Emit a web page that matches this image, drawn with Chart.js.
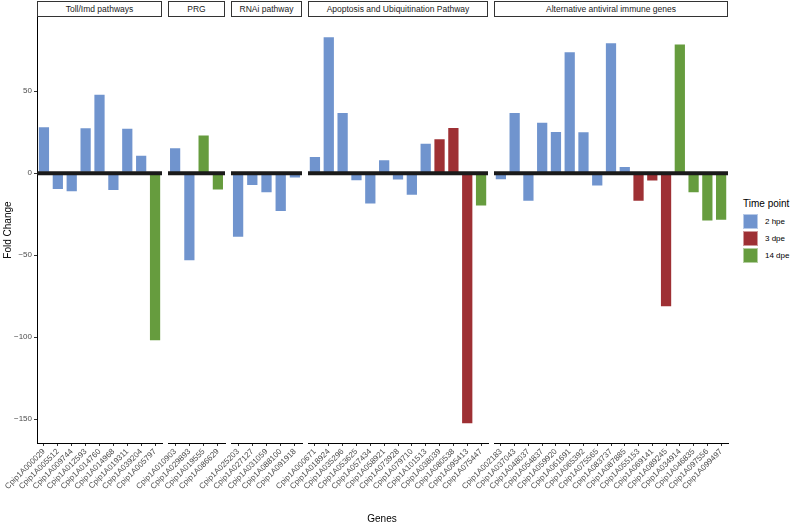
<!DOCTYPE html>
<html>
<head>
<meta charset="utf-8">
<script src="https://cdn.jsdelivr.net/npm/chart.js@4.4.1/dist/chart.umd.min.js"></script>
<style>
  body { margin: 0; background: #fff; }
  #wrap { position: relative; width: 792px; height: 526px; overflow: hidden; font-family: "Liberation Sans", Arial, sans-serif; }
  .panel { position: absolute; }
  .strip { position: absolute; top: 1px; height: 16px; box-sizing: border-box; border: 1px solid #333; background: #fff;
           font-size: 8.5px; color: #1a1a1a; text-align: center; line-height: 14px; white-space: nowrap; overflow: hidden; }
  .title { position: absolute; font-size: 10px; font-weight: 400; color: #000; white-space: nowrap; line-height: 12px; }
  .key { position: absolute; width: 15px; height: 15px; box-sizing: border-box; border: 1px solid rgba(255,255,255,0.5); }
  .keyLabel { position: absolute; font-size: 8px; color: #000; line-height: 15px; }
</style>
</head>
<body>
<div id="wrap"></div>
<script>
//Fold change per gene, split by pathway panel

const panelNames = ["Toll/Imd pathways", "PRG", "RNAi pathway", "Apoptosis and Ubiquitination Pathway", "Alternative antiviral immune genes"];

const tollGenes = ["Cpip1A000029", "Cpip1A005512", "Cpip1A009744", "Cpip1A012593", "Cpip1A014760", "Cpip1A014968", "Cpip1A019311", "Cpip1A039204", "Cpip1A005797"];
const tollFold = [28.6, -10.2, -11.6, 28, 48.4, -10.9, 27.7, 11.3, -102.4];
const tollTime = ["2 hpe", "2 hpe", "2 hpe", "2 hpe", "2 hpe", "2 hpe", "2 hpe", "2 hpe", "14 dpe"];

const prgGenes = ["Cpip1A010903", "Cpip1A029893", "Cpip1A019555", "Cpip1A086629"];
const prgFold = [15.8, -53.7, 23.5, -10.6];
const prgTime = ["2 hpe", "2 hpe", "14 dpe", "14 dpe"];

const rnaiGenes = ["Cpip1A025203", "Cpip1A027127", "Cpip1A031059", "Cpip1A088100", "Cpip1A091918"];
const rnaiFold = [-39.3, -7.9, -12.2, -23.7, -3.3];
const rnaiTime = ["2 hpe", "2 hpe", "2 hpe", "2 hpe", "2 hpe"];

const apopGenes = ["Cpip1A000671", "Cpip1A018924", "Cpip1A035296", "Cpip1A053625", "Cpip1A057434", "Cpip1A058921", "Cpip1A073928", "Cpip1A079710", "Cpip1A101513", "Cpip1A038039", "Cpip1A080538", "Cpip1A095413", "Cpip1A075447"];
const apopFold = [10.5, 83.5, 37.3, -4.9, -19.1, 8.5, -4.5, -13.8, 18.6, 21.3, 28.1, -153, -20.3];
const apopTime = ["2 hpe", "2 hpe", "2 hpe", "2 hpe", "2 hpe", "2 hpe", "2 hpe", "2 hpe", "2 hpe", "3 dpe", "3 dpe", "3 dpe", "14 dpe"];

const altGenes = ["Cpip1A002183", "Cpip1A037043", "Cpip1A048037", "Cpip1A054837", "Cpip1A059920", "Cpip1A061691", "Cpip1A065392", "Cpip1A075565", "Cpip1A083737", "Cpip1A087885", "Cpip1A055153", "Cpip1A069141", "Cpip1A089245", "Cpip1A034914", "Cpip1A046835", "Cpip1A097556", "Cpip1A099497"];
const altFold = [-4.3, 37.3, -17.4, 31.4, 25.7, 74.3, 25.5, -8.1, 79.8, 4.3, -17.4, -5.1, -81.7, 79, -12.2, -29.4, -29];
const altTime = ["2 hpe", "2 hpe", "2 hpe", "2 hpe", "2 hpe", "2 hpe", "2 hpe", "2 hpe", "2 hpe", "2 hpe", "3 dpe", "3 dpe", "3 dpe", "14 dpe", "14 dpe", "14 dpe", "14 dpe"];

const timePoints = ["2 hpe", "3 dpe", "14 dpe"];
const timeColors = ["#7094CE", "#9E3034", "#669C3E"];

const yTicks = [50, 0, -50, -100, -150];

const panelGenes = [tollGenes, prgGenes, rnaiGenes, apopGenes, altGenes];
const panelFold = [tollFold, prgFold, rnaiFold, apopFold, altFold];
const panelTime = [tollTime, prgTime, rnaiTime, apopTime, altTime];

const FONT = "'Liberation Sans', Arial, sans-serif";
const wrap = document.getElementById("wrap");

//layout of the facets (pixels)
const unit = 13.6;
const gap = 6;
const plotTop = 17;
const plotBottom = 443;
const yMin = -164.5;
const yMax = 95.2;

//thick line at zero
const zeroLine = {
  id: "zeroLine",
  afterDatasetsDraw(chart) {
    const { ctx, chartArea, scales } = chart;
    const y = scales.y.getPixelForValue(0);
    ctx.save();
    ctx.strokeStyle = "#1a1a1a";
    ctx.lineWidth = 4;
    ctx.beginPath();
    ctx.moveTo(chartArea.left, y);
    ctx.lineTo(chartArea.right, y);
    ctx.stroke();
    ctx.restore();
  },
};

let plotLeft = 37;

panelGenes.forEach((genes, i) => {
  const plotWidth = Math.round((genes.length + 0.2) * unit);
  const first = i === 0;
  const padLeft = first ? 10 : 45;
  const yWidth = first ? 37 : 0;
  const padRight = 6;
  const padTop = 8;
  const xHeight = 60;

  const box = document.createElement("div");
  box.className = "panel";
  box.style.left = plotLeft - yWidth - padLeft + "px";
  box.style.top = plotTop - padTop + "px";
  box.style.width = padLeft + yWidth + plotWidth + padRight + "px";
  box.style.height = padTop + (plotBottom - plotTop) + xHeight + "px";
  const canvas = document.createElement("canvas");
  box.appendChild(canvas);
  wrap.appendChild(box);

  const strip = document.createElement("div");
  strip.className = "strip";
  strip.style.left = plotLeft + "px";
  strip.style.width = plotWidth + "px";
  strip.innerText = panelNames[i];
  wrap.appendChild(strip);

  const colors = panelTime[i].map((t) => timeColors[timePoints.indexOf(t)]);

  new Chart(canvas, {
    type: "bar",
    data: {
      labels: genes,
      datasets: [
        {
          data: panelFold[i],
          backgroundColor: colors,
          borderColor: "rgba(255,255,255,0.55)",
          borderWidth: 1,
          borderSkipped: false,
          barPercentage: 0.9,
          categoryPercentage: genes.length / (genes.length + 0.2),
        },
      ],
    },
    options: {
      responsive: true,
      maintainAspectRatio: false,
      animation: false,
      events: [],
      layout: { padding: { left: padLeft, right: padRight, top: padTop, bottom: 0 } },
      plugins: { legend: { display: false }, tooltip: { enabled: false } },
      scales: {
        x: {
          offset: true,
          grid: { offset: false, drawOnChartArea: false, drawTicks: true, tickLength: 3, color: "#333" },
          border: { display: true, color: "#000", width: 1 },
          ticks: {
            autoSkip: false,
            minRotation: 45,
            maxRotation: 45,
            padding: 1,
            color: "#4d4d4d",
            font: { family: FONT, size: 8 },
          },
          afterFit: (scale) => {
            scale.height = xHeight;
          },
        },
        y: {
          display: first,
          min: yMin,
          max: yMax,
          afterBuildTicks: (scale) => {
            scale.ticks = yTicks.map((v) => ({ value: v }));
          },
          grid: { drawOnChartArea: false, drawTicks: true, tickLength: 3, color: "#333" },
          border: { display: true, color: "#000", width: 1 },
          ticks: {
            padding: 2,
            color: "#4d4d4d",
            font: { family: FONT, size: 8 },
            callback: (v) => String(v).replace("-", "\u2212"),
          },
          afterFit: (scale) => {
            scale.width = yWidth;
          },
        },
      },
    },
    plugins: [zeroLine],
  });

  plotLeft += plotWidth + gap;
});

//axis titles
const yTitle = document.createElement("div");
yTitle.className = "title";
yTitle.innerText = "Fold Change";
yTitle.style.left = "-22px";
yTitle.style.top = "224px";
yTitle.style.width = "60px";
yTitle.style.textAlign = "center";
yTitle.style.transform = "rotate(-90deg)";
wrap.appendChild(yTitle);

const xTitle = document.createElement("div");
xTitle.className = "title";
xTitle.innerText = "Genes";
xTitle.style.left = "352px";
xTitle.style.top = "513px";
xTitle.style.width = "60px";
xTitle.style.textAlign = "center";
wrap.appendChild(xTitle);

//legend
const legendTitle = document.createElement("div");
legendTitle.className = "title";
legendTitle.innerText = "Time point";
legendTitle.style.left = "743px";
legendTitle.style.top = "198px";
wrap.appendChild(legendTitle);

timePoints.forEach((t, i) => {
  const key = document.createElement("div");
  key.className = "key";
  key.style.left = "743px";
  key.style.top = 214 + i * 17 + "px";
  key.style.background = timeColors[i];
  wrap.appendChild(key);

  const label = document.createElement("div");
  label.className = "keyLabel";
  label.innerText = t;
  label.style.left = "765px";
  label.style.top = 214 + i * 17 + "px";
  wrap.appendChild(label);
});
</script>
</body>
</html>
